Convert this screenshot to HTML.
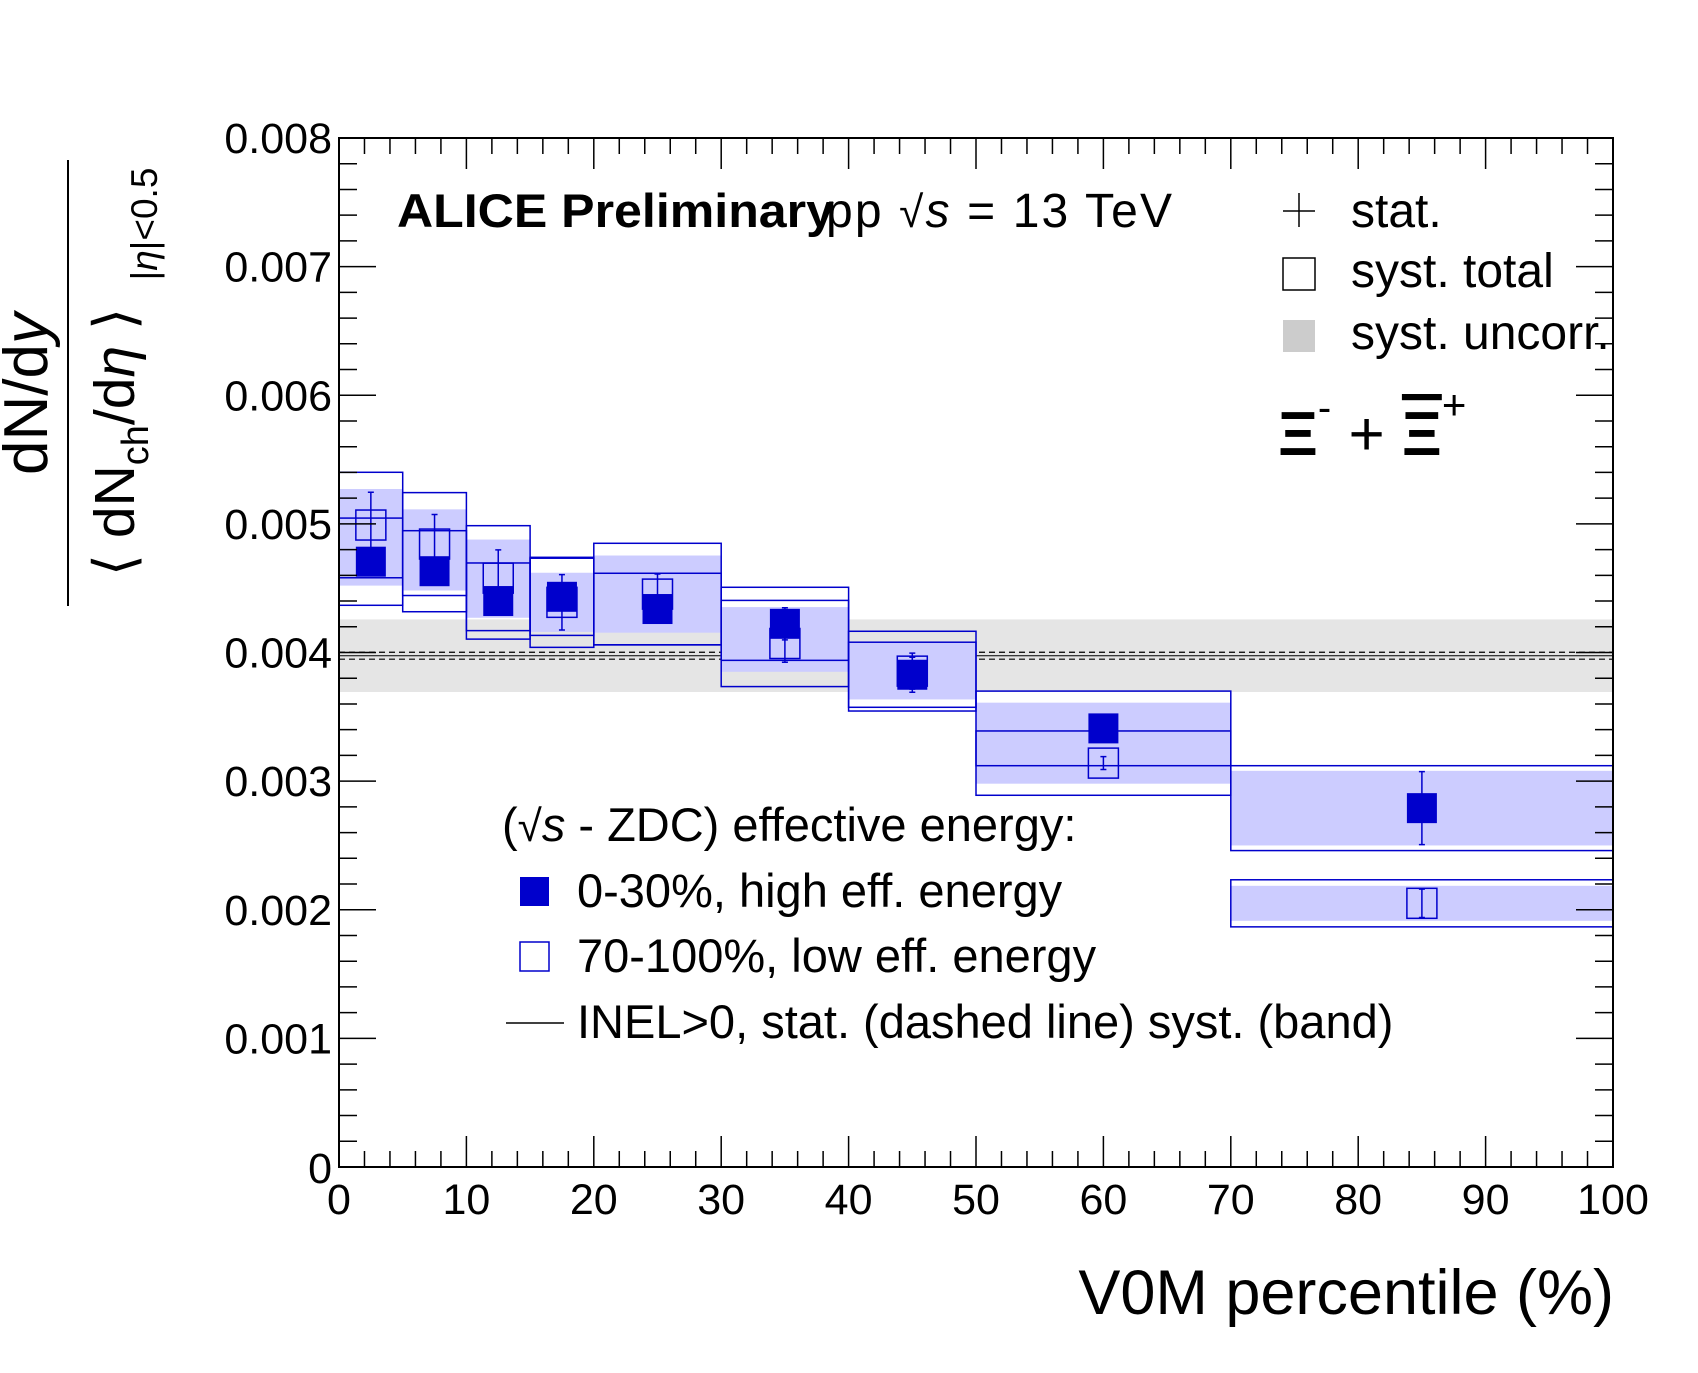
<!DOCTYPE html>
<html><head><meta charset="utf-8"><style>
html,body{margin:0;padding:0;background:#fff;}
svg{display:block;font-family:"Liberation Sans",Arial,sans-serif;}
</style></head><body>
<svg id="chart" width="1698" height="1373" viewBox="0 0 1698 1373" xmlns="http://www.w3.org/2000/svg">
<g id="layer-inel"></g>
<g id="layer-bands"></g>
<g id="layer-boxes"></g>
<g id="layer-marks"></g>
<g id="layer-axes"></g>

<text x="397" y="227" font-size="47" font-weight="bold" textLength="437" lengthAdjust="spacingAndGlyphs">ALICE Preliminary</text>
<text x="826" y="227" font-size="48" textLength="346" lengthAdjust="spacing">pp  <tspan font-size="44">√</tspan><tspan font-style="italic">s</tspan> = 13 TeV</text>

<g>
<line x1="1283" y1="211" x2="1315" y2="211" stroke="#000" stroke-width="1.5"/>
<line x1="1299" y1="193" x2="1299" y2="227" stroke="#000" stroke-width="1.5"/>
<text x="1351" y="227" font-size="48">stat.</text>
<rect x="1283" y="258" width="32" height="32" fill="none" stroke="#000" stroke-width="1.5"/>
<text x="1351" y="287" font-size="48">syst. total</text>
<rect x="1283" y="320" width="32" height="32" fill="#cccccc"/>
<text x="1351" y="349" font-size="48">syst. uncorr.</text>
</g>
<text x="1278" y="455" font-size="62" font-weight="bold">Ξ<tspan dy="-34" font-size="40" font-weight="normal">-</tspan><tspan dy="34" font-weight="normal"> + </tspan><tspan text-decoration="overline">Ξ</tspan><tspan dy="-36" font-size="42" font-weight="normal">+</tspan></text>

<g>
<text x="502" y="841" font-size="47">(<tspan font-size="44">√</tspan><tspan font-style="italic">s</tspan> - ZDC) effective energy:</text>
<rect x="520" y="877" width="29" height="29" fill="#0000cc"/>
<text x="577" y="907" font-size="47">0-30%, high eff. energy</text>
<rect x="520" y="942" width="29" height="29" fill="none" stroke="#0000cc" stroke-width="1.5"/>
<text x="577" y="972" font-size="47">70-100%, low eff. energy</text>
<line x1="506" y1="1023" x2="564" y2="1023" stroke="#000" stroke-width="1.5"/>
<text x="577" y="1038" font-size="47">INEL&gt;0, stat. (dashed line) syst. (band)</text>
</g>

<text x="1614" y="1314" font-size="63" text-anchor="end">V0M percentile (%)</text>
<g>
<line x1="68" y1="160" x2="68" y2="606" stroke="#000" stroke-width="2"/>
<text transform="translate(47,394) rotate(-90)" font-size="62" text-anchor="middle">dN/d<tspan font-style="italic">y</tspan></text>
<text transform="translate(134,442) rotate(-90)" font-size="57" text-anchor="middle">⟨ dN<tspan font-size="38" dy="14">ch</tspan><tspan dy="-14">/d</tspan><tspan font-style="italic">η</tspan> ⟩</text>
<text transform="translate(157,224) rotate(-90)" font-size="37" text-anchor="middle">|<tspan font-style="italic">η</tspan>|&lt;0.5</text>
</g>
</svg>
<script>
const binEdges = [0,5,10,15,20,30,40,50,70,100];
const hiVal   = [0.004706,0.004632,0.004400,0.004433,0.004338,0.004223,0.003827,0.003410,0.002790];
const hiStat  = [0.00008,0.00008,0.00008,0.00008,0.00008,0.000125,0.000136,0.00008,0.000284];
const hiSyst  = [0.000339,0.000315,0.000296,0.00030,0.000278,0.000284,0.000253,0.00029,0.00033];
const hiUnc   = [0.000186,0.00015,0.00013,0.00018,0.00018,0.00013,0.00018,0.0002,0.00029];
const loVal   = [0.004991,0.004843,0.004578,0.004390,0.004454,0.004070,0.003855,0.003140,0.002050];
const loStat  = [0.000255,0.00023,0.00022,0.000215,0.000156,0.000146,0.00014,0.00005,0.00011];
const loSyst  = [0.00041,0.0004,0.000408,0.00035,0.000395,0.000335,0.00031,0.00025,0.000183];
const loUnc   = [0.00028,0.00027,0.0003,0.00023,0.0003,0.00022,0.00022,0.00016,0.000136];
const inelVal = 0.003975, inelStat = 0.000027, inelSyst = 0.000282;
const xTicks = [0,10,20,30,40,50,60,70,80,90,100];
const yTicks = [0,0.001,0.002,0.003,0.004,0.005,0.006,0.007,0.008];
const yTickLabels = ["0","0.001","0.002","0.003","0.004","0.005","0.006","0.007","0.008"];

const X0=339,X1=1613,Y0=1167,Y1=138;
const sx=v=>X0+(v-0)/100*(X1-X0);
const sy=v=>Y0-(v-0)/0.008*(Y0-Y1);
const NS="http://www.w3.org/2000/svg";
function mk(tag,attrs,parent){const e=document.createElementNS(NS,tag);for(const k in attrs)e.setAttribute(k,attrs[k]);parent.appendChild(e);return e;}
const BLUE="#0000cc";
const gInel=document.getElementById('layer-inel'),gB=document.getElementById('layer-bands'),gX=document.getElementById('layer-boxes'),gM=document.getElementById('layer-marks'),gA=document.getElementById('layer-axes');

let r=mk('rect',{x:X0,y:sy(inelVal+inelSyst),width:X1-X0,height:sy(inelVal-inelSyst)-sy(inelVal+inelSyst),fill:'#e5e5e5'},gInel);


let l=mk('line',{x1:X0,x2:X1,y1:sy(inelVal),y2:sy(inelVal),stroke:'#000','stroke-width':1},gInel);


[inelVal+inelStat,inelVal-inelStat].forEach(v=>{
  const d=mk('line',{x1:X0,x2:X1,y1:sy(v),y2:sy(v),stroke:'#000','stroke-width':1.2,'stroke-dasharray':'6,4'},gInel);
  
  
});

for(let i=0;i<hiVal.length;i++){
  const xa=sx(binEdges[i]),xb=sx(binEdges[i+1]),xc=(xa+xb)/2;
  [[loVal,loUnc],[hiVal,hiUnc]].forEach(([v,u])=>{
    const b=mk('rect',{x:xa,y:sy(v[i]+u[i]),width:xb-xa,height:sy(v[i]-u[i])-sy(v[i]+u[i]),fill:'#ccccff'},gB);
    
    
  });
  [[loVal,loSyst],[hiVal,hiSyst]].forEach(([v,s])=>{
    const b=mk('rect',{x:xa,y:sy(v[i]+s[i]),width:xb-xa,height:sy(v[i]-s[i])-sy(v[i]+s[i]),fill:'none',stroke:BLUE,'stroke-width':1.5},gX);
    
    
  });
  [[loVal,loStat,false],[hiVal,hiStat,true]].forEach(([v,s,filled])=>{
    const y=sy(v[i]),yt=sy(v[i]+s[i]),yb=sy(v[i]-s[i]);
    const e=mk('path',{d:`M${xc},${yt}V${yb}M${xc-3},${yt}H${xc+3}M${xc-3},${yb}H${xc+3}`,stroke:BLUE,'stroke-width':1.5,fill:'none'},gM);
    
    
    const m=mk('rect',{x:xc-15,y:y-15,width:30,height:30,fill:filled?BLUE:'none',stroke:BLUE,'stroke-width':filled?0:1.5},gM);
    
    
  });
}

const f=mk('rect',{x:X0,y:Y1,width:X1-X0,height:Y0-Y1,fill:'none',stroke:'#000','stroke-width':2},gA);


for(let v=0;v<=100;v+=2){
  const x=sx(v),len=(v%10===0)?31:16;
  const t=mk('path',{d:`M${x},${Y0}V${Y0-len}M${x},${Y1}V${Y1+len}`,stroke:'#000','stroke-width':1.5},gA);
  
  
}
xTicks.forEach(v=>{
  const t=mk('text',{x:sx(v),y:1214,'font-size':43,'text-anchor':'middle'},gA);
  t.textContent=String(v);
  
  
});
for(let k=0;k<=40;k++){
  const v=k*0.0002,y=sy(v),len=(k%5===0)?37:18;
  const t=mk('path',{d:`M${X0},${y}H${X0+len}M${X1},${y}H${X1-len}`,stroke:'#000','stroke-width':1.5},gA);
  
  
}
yTicks.forEach((v,i)=>{
  const t=mk('text',{x:332,y:sy(v)+(i===0?16:15),'font-size':43,'text-anchor':'end'},gA);
  t.textContent=yTickLabels[i];
  
  
});
</script>
</body></html>
